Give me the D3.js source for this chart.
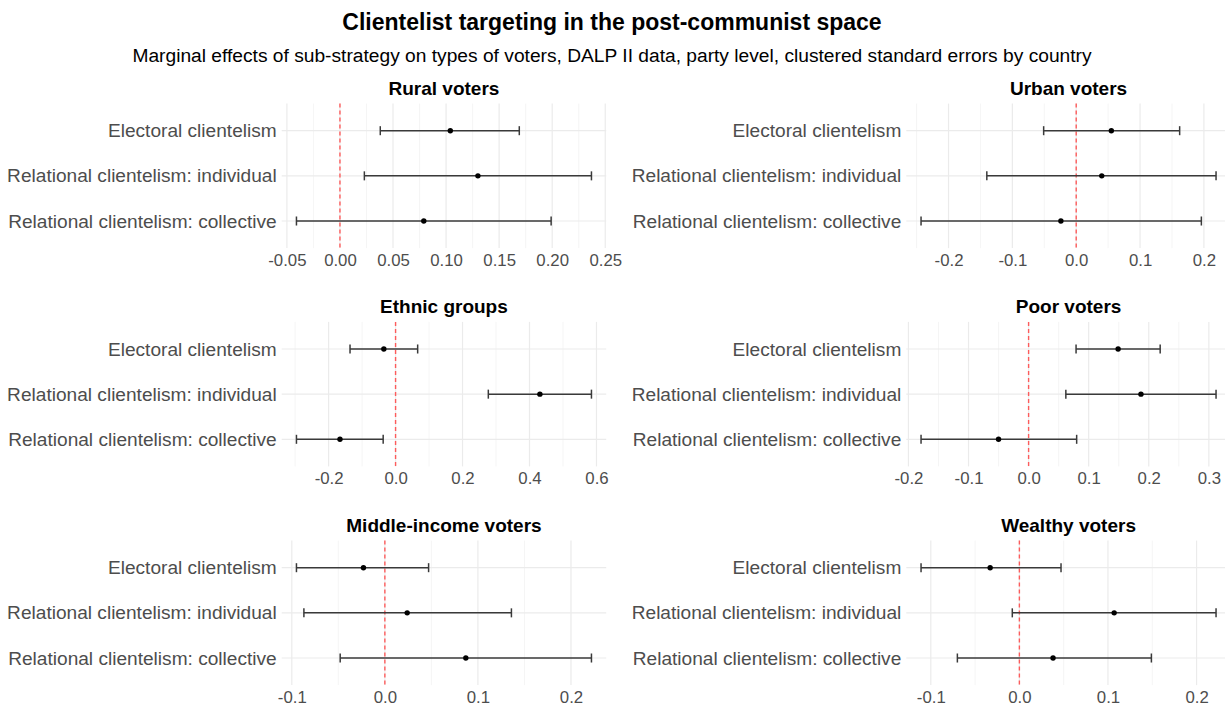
<!DOCTYPE html>
<html>
<head>
<meta charset="utf-8">
<script src="https://cdn.jsdelivr.net/npm/d3@7"></script>
<style>
  body { margin: 0; background: #ffffff; }
  text { font-family: "Liberation Sans", Arial, Helvetica, sans-serif; }
</style>
</head>
<body>
<svg id="chart" width="1225" height="707"></svg>
<script>
// Sub-strategies (rows of every panel, top to bottom)
const strategies = [
  "Electoral clientelism",
  "Relational clientelism: individual",
  "Relational clientelism: collective"
];

const panelTitles = [
  "Rural voters", "Urban voters",
  "Ethnic groups", "Poor voters",
  "Middle-income voters", "Wealthy voters"
];

// Marginal effects with lower / upper bounds, one value per sub-strategy
const ruralEst  = [0.104, 0.130, 0.079];
const ruralLow  = [0.038, 0.023, -0.041];
const ruralHigh = [0.169, 0.237, 0.199];
const ruralTicks = [-0.05, 0, 0.05, 0.10, 0.15, 0.20, 0.25];

const urbanEst  = [0.055, 0.040, -0.024];
const urbanLow  = [-0.051, -0.140, -0.243];
const urbanHigh = [0.162, 0.219, 0.196];
const urbanTicks = [-0.2, -0.1, 0, 0.1, 0.2];

const ethnicEst  = [-0.035, 0.431, -0.166];
const ethnicLow  = [-0.136, 0.277, -0.296];
const ethnicHigh = [0.066, 0.585, -0.037];
const ethnicTicks = [-0.2, 0, 0.2, 0.4, 0.6];

const poorEst  = [0.149, 0.187, -0.050];
const poorLow  = [0.079, 0.062, -0.179];
const poorHigh = [0.219, 0.312, 0.080];
const poorTicks = [-0.2, -0.1, 0, 0.1, 0.2, 0.3];

const middleEst  = [-0.023, 0.024, 0.087];
const middleLow  = [-0.095, -0.087, -0.048];
const middleHigh = [0.047, 0.136, 0.222];
const middleTicks = [-0.1, 0, 0.1, 0.2];

const wealthyEst  = [-0.033, 0.107, 0.038];
const wealthyLow  = [-0.111, -0.008, -0.070];
const wealthyHigh = [0.047, 0.222, 0.149];
const wealthyTicks = [-0.1, 0, 0.1, 0.2];

const panels = [
  { est: ruralEst,   low: ruralLow,   high: ruralHigh,   ticks: ruralTicks,   fmt: ".2f" },
  { est: urbanEst,   low: urbanLow,   high: urbanHigh,   ticks: urbanTicks,   fmt: ".1f" },
  { est: ethnicEst,  low: ethnicLow,  high: ethnicHigh,  ticks: ethnicTicks,  fmt: ".1f" },
  { est: poorEst,    low: poorLow,    high: poorHigh,    ticks: poorTicks,    fmt: ".1f" },
  { est: middleEst,  low: middleLow,  high: middleHigh,  ticks: middleTicks,  fmt: ".1f" },
  { est: wealthyEst, low: wealthyLow, high: wealthyHigh, ticks: wealthyTicks, fmt: ".1f" }
].map((p, i) => Object.assign(p, { title: panelTitles[i] }));

// Layout of the 3 x 2 grid of panels
const colLeft = [281.7, 906.3];
const rowTop = [103.6, 321.9, 540.6];
const panelW = 324.5;
const panelH = 144.5;

const locale = d3.formatLocale({ decimal: ".", thousands: ",", grouping: [3], currency: ["", ""], minus: "-" });

const svg = d3.select("#chart");

svg.append("text")
  .attr("x", 612).attr("y", 30)
  .attr("text-anchor", "middle")
  .attr("font-size", 23).attr("font-weight", "bold").attr("fill", "#000")
  .text("Clientelist targeting in the post-communist space");

svg.append("text")
  .attr("x", 612).attr("y", 61.5)
  .attr("text-anchor", "middle")
  .attr("font-size", 19.2).attr("fill", "#000")
  .text("Marginal effects of sub-strategy on types of voters, DALP II data, party level, clustered standard errors by country");

panels.forEach((p, i) => {
  const x0 = colLeft[i % 2];
  const y0 = rowTop[Math.floor(i / 2)];
  const g = svg.append("g").attr("transform", `translate(${x0},${y0})`);

  // continuous scale with 5% expansion on both sides
  const lo = d3.min(p.low.concat([0])), hi = d3.max(p.high.concat([0]));
  const pad = (hi - lo) * 0.05;
  const x = d3.scaleLinear().domain([lo - pad, hi + pad]).range([0, panelW]);
  const y = d3.scalePoint().domain(strategies).range([0, panelH]).padding(0.6);

  // minor breaks halfway between major ticks
  const step = p.ticks[1] - p.ticks[0];
  const minors = [p.ticks[0] - step / 2]
    .concat(p.ticks.map(t => t + step / 2))
    .filter(v => v >= x.domain()[0] && v <= x.domain()[1]);

  g.selectAll("line.minor").data(minors).join("line")
    .attr("x1", d => x(d)).attr("x2", d => x(d))
    .attr("y1", 0).attr("y2", panelH)
    .attr("stroke", "#f2f2f2").attr("stroke-width", 0.8);

  g.selectAll("line.major").data(p.ticks).join("line")
    .attr("x1", d => x(d)).attr("x2", d => x(d))
    .attr("y1", 0).attr("y2", panelH)
    .attr("stroke", "#ebebeb").attr("stroke-width", 1.2);

  g.selectAll("line.hgrid").data(strategies).join("line")
    .attr("x1", 0).attr("x2", panelW)
    .attr("y1", d => y(d)).attr("y2", d => y(d))
    .attr("stroke", "#ebebeb").attr("stroke-width", 1.2);

  // x axis tick labels
  const fmt = locale.format(p.fmt);
  const xAxis = d3.axisBottom(x).tickValues(p.ticks).tickFormat(fmt).tickSize(0).tickPadding(0);
  const ax = g.append("g").attr("transform", `translate(0,${panelH})`).call(xAxis);
  ax.select(".domain").remove();
  ax.selectAll("text")
    .attr("y", 18).attr("dy", 0)
    .attr("font-size", 16.8).attr("fill", "#4d4d4d")
    .attr("font-family", "Liberation Sans, Arial, sans-serif");

  // y axis category labels
  const yAxis = d3.axisLeft(y).tickSize(0).tickPadding(5);
  const ay = g.append("g").call(yAxis);
  ay.select(".domain").remove();
  ay.selectAll("text")
    .attr("font-size", 19.1).attr("fill", "#4d4d4d")
    .attr("font-family", "Liberation Sans, Arial, sans-serif");

  // reference line at zero
  g.append("line")
    .attr("x1", x(0)).attr("x2", x(0))
    .attr("y1", 0).attr("y2", panelH)
    .attr("stroke", "#ff4d4d").attr("stroke-opacity", 0.9)
    .attr("stroke-width", 1.4).attr("stroke-dasharray", "4,3");

  // error bars
  const capH = y.step() * 0.1;
  const rows = strategies.map((s, k) => ({ s, est: p.est[k], low: p.low[k], high: p.high[k] }));
  const bars = g.selectAll("g.bar").data(rows).join("g");
  bars.append("line")
    .attr("x1", d => x(d.low)).attr("x2", d => x(d.high))
    .attr("y1", d => y(d.s)).attr("y2", d => y(d.s))
    .attr("stroke", "#3a3a3a").attr("stroke-width", 1.5);
  bars.append("line")
    .attr("x1", d => x(d.low)).attr("x2", d => x(d.low))
    .attr("y1", d => y(d.s) - capH).attr("y2", d => y(d.s) + capH)
    .attr("stroke", "#3a3a3a").attr("stroke-width", 1.5);
  bars.append("line")
    .attr("x1", d => x(d.high)).attr("x2", d => x(d.high))
    .attr("y1", d => y(d.s) - capH).attr("y2", d => y(d.s) + capH)
    .attr("stroke", "#3a3a3a").attr("stroke-width", 1.5);
  bars.append("circle")
    .attr("cx", d => x(d.est)).attr("cy", d => y(d.s))
    .attr("r", 2.7).attr("fill", "#000");

  // panel title
  g.append("text")
    .attr("x", panelW / 2).attr("y", -8.6)
    .attr("text-anchor", "middle")
    .attr("font-size", 19).attr("font-weight", "bold").attr("fill", "#000")
    .text(p.title);
});
</script>
</body>
</html>
